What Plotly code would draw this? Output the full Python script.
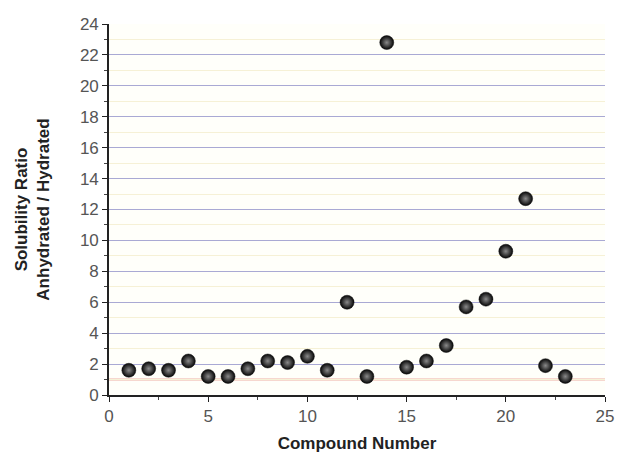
import plotly.graph_objects as go

compound = list(range(1, 24))
ratio = [1.6, 1.7, 1.6, 2.2, 1.2, 1.2, 1.7, 2.2, 2.1, 2.5, 1.6, 6.0, 1.2, 22.8,
         1.8, 2.2, 3.2, 5.7, 6.2, 9.3, 12.7, 1.9, 1.2]
reference_ratio = 1.0

fig = go.Figure()
fig.add_hline(y=reference_ratio, line=dict(color="#d9604f", width=1.5), layer="below")
fig.add_trace(go.Scatter(
    x=compound, y=ratio, mode="markers",
    marker=dict(size=14, color="#050505",
                gradient=dict(type="radial", color="#8a8a8a"),
                line=dict(width=0.5, color="#111")),
    showlegend=False,
))

font = "Liberation Sans, Arial, sans-serif"
fig.update_layout(
    width=626, height=464,
    margin=dict(l=109, r=14, t=24, b=69),
    paper_bgcolor="white", plot_bgcolor="#fffffa",
    font=dict(family=font, color="#555", size=17),
    xaxis=dict(range=[0, 25], dtick=5, showgrid=False, zeroline=False,
               showline=True, linecolor="#222", linewidth=1.6,
               ticks="outside", ticklen=5, tickcolor="#222",
               minor=dict(dtick=2.5, ticks="outside", ticklen=3, tickcolor="#444"),
               title=dict(text="<b>Compound Number</b>",
                          font=dict(size=17, color="#222"), standoff=12)),
    yaxis=dict(range=[0, 24], dtick=2, showgrid=True, gridcolor="#a9a9d4",
               gridwidth=1, zeroline=False, layer="below traces",
               showline=True, linecolor="#222", linewidth=1.6,
               ticks="outside", ticklen=5, tickcolor="#222",
               minor=dict(dtick=1, ticks="outside", ticklen=3, tickcolor="#444",
                          showgrid=True, gridcolor="#f6f1d6"),
               title=dict(text="<b>Solubility Ratio<br>Anhydrated / Hydrated</b>",
                          font=dict(size=17, color="#222"), standoff=26)),
)
fig.write_html("out.html")
